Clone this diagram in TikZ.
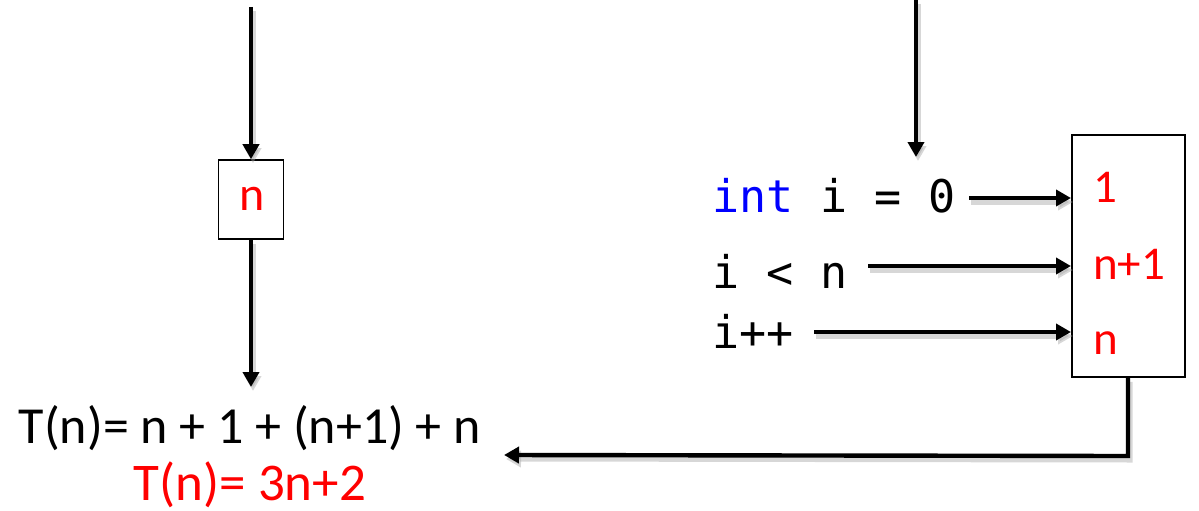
\documentclass[tikz,border=0pt]{standalone}
\usepackage{fontspec}
\setmainfont{Carlito}
\newfontfamily\codefont{DejaVu Sans Mono}
\usetikzlibrary{arrows.meta}
\definecolor{kwblue}{RGB}{0,0,255}
\definecolor{hot}{RGB}{255,0,0}
\tikzset{
  flow/.style={line width=4.4pt, -{Triangle[length=15pt,width=16pt]},
    preaction={draw=black!35, opacity=0.45, line width=5pt,
      transform canvas={shift={(2pt,-4pt)}}}},
  cell/.style={draw, line width=1.6pt, fill=white, inner sep=0pt},
  code/.style={font=\codefont\fontsize{45}{50}\selectfont, inner sep=0pt, anchor=base west},
  cost/.style={font=\fontsize{47}{50}\selectfont, text=hot, inner sep=0pt, anchor=base west},
}
\begin{document}
\begin{tikzpicture}[x=1pt,y=-1pt]
\useasboundingbox (0,0) rectangle (1199,511);

% left branch: parameter box
\coordinate (ltop) at (251,7);
\node[cell, minimum width=65pt, minimum height=79pt] (nbox) at (251,199.5) {};
\node[font=\fontsize{48}{50}\selectfont, text=hot, inner sep=0pt] (nval) at (252,199) {n};
\coordinate (lend) at (251,387);

% loop header statements
\coordinate (rtop) at (916,0);
\node[code] (init) at (712,212) {\textcolor{kwblue}{int} i = 0};
\node[code] (cond) at (712,288) {i < n};
\node[code] (incr) at (712,348) {i++};

% cost column
\node[cell, minimum width=113pt, minimum height=242pt] (costs) at (1128.5,256) {};
\node[cost] (c1) at (1093,202) {1};
\node[cost] (c2) at (1093,279) {n+1};
\node[cost] (c3) at (1093,354) {n};
\coordinate (cinit) at (1071,198);
\coordinate (ccond) at (1071,266);
\coordinate (cincr) at (1071,332);
\coordinate (corner) at (1128,456);

% totals
\node[font=\fontsize{52}{55}\selectfont, inner sep=0pt, anchor=base] (sum) at (250,443) {T(n)= n + 1 + (n+1) + n};
\node[font=\fontsize{53}{55}\selectfont, text=hot, inner sep=0pt, anchor=base] (total) at (250,500) {T(n)= 3n+2};
\coordinate (sumend) at (504,455);

% connectors
\draw[flow] (ltop) -- (nbox.north);
\draw[flow] (nbox.south) -- (lend);
\draw[flow] (rtop) -- (916,157);
\draw[flow] (969,198) -- (cinit);
\draw[flow] (868,266) -- (ccond);
\draw[flow] (814,332) -- (cincr);
\draw[flow] (costs.south -| corner) -- (corner) -- (sumend);
\end{tikzpicture}
\end{document}
